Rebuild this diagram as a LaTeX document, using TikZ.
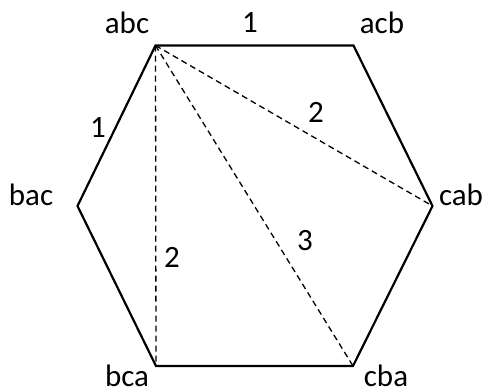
\documentclass[tikz,border=0pt]{standalone}
\usepackage{fontspec}
\setmainfont{Carlito}
\begin{document}
\begin{tikzpicture}[x=1pt,y=-1pt,
  lbl/.style={anchor=base,inner sep=0pt,font=\fontsize{31}{31}\selectfont},
  edge/.style={line width=2.2pt,line join=miter},
  diag/.style={line width=1.3pt,dash pattern=on 6pt off 4pt}]
\useasboundingbox (0,0) rectangle (488,391);
\coordinate (abc) at (155.5,45.5);
\coordinate (acb) at (353.5,45.5);
\coordinate (cab) at (432.5,206);
\coordinate (cba) at (353,366);
\coordinate (bca) at (156,366);
\coordinate (bac) at (77.5,206);
\draw[edge] (abc) -- (acb) -- (cab) -- (cba) -- (bca) -- (bac) -- cycle;
\draw[diag] (abc) -- (cab);
\draw[diag] (abc) -- (cba);
\draw[diag] (abc) -- (bca);
\node[lbl] (tabc) at (127,33) {abc};
\node[lbl] (tacb) at (382,33) {acb};
\node[lbl] (tbac) at (31,205) {bac};
\node[lbl] (tcab) at (461,205) {cab};
\node[lbl] (tbca) at (127,386) {bca};
\node[lbl] (tcba) at (386,386) {cba};
\node[lbl] (e1) at (250,32) {1};
\node[lbl] (e2) at (98,137) {1};
\node[lbl] (e3) at (316,122) {2};
\node[lbl] (e4) at (305,250) {3};
\node[lbl] (e5) at (172,267) {2};
\end{tikzpicture}
\end{document}
